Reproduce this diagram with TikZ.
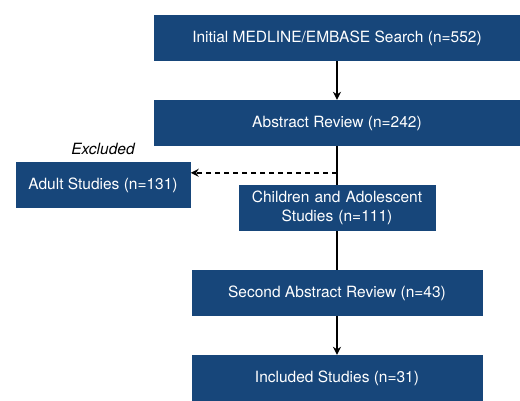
\documentclass[tikz,border=0pt]{standalone}
\usepackage{fontspec}
\setmainfont{TeX Gyre Heros}
\usepackage{tikz}
\usetikzlibrary{arrows.meta,positioning}

\definecolor{boxblue}{RGB}{23,70,122}

\begin{document}
\begin{tikzpicture}[
		x = 1pt, y = 1pt,
		node distance = 85pt,
		on grid,
		> = {Stealth[length=8pt,width=8pt]},
		every node/.style = {font=\fontsize{15.5}{18.5}\selectfont},
		box/.style = {fill=boxblue, text=white, minimum height=46pt, inner sep=0pt, align=center},
		link/.style = {line width=1.4pt}
		]
		\useasboundingbox (0,0) rectangle (520,-400);
		\node[box, minimum width=366pt] (search) at (337,-38) {Initial MEDLINE/EMBASE Search (n=552)};
		\node[box, minimum width=366pt] (review) [below=of search] {Abstract Review (n=242)};
		\node[box, text width=197pt] (child) [below=of review] {Children and Adolescent\\Studies (n=111)};
		\node[box, minimum width=291pt] (second) [below=of child] {Second Abstract Review (n=43)};
		\node[box, minimum width=291pt] (incl) [below=of second] {Included Studies (n=31)};
		\node[box, minimum width=175pt] (adult) [above left=23pt and 234pt of child] {Adult Studies (n=131)};
		\node[font=\fontsize{15.5}{18.5}\selectfont\itshape] (excl) [above=36pt of adult] {Excluded};
		\coordinate[yshift=12pt] (split) at (child.north);
		\draw[link,->] (search) -- (review);
		\draw[link] (review) -- (child);
		\draw[link] (child) -- (second);
		\draw[link,->] (second) -- (incl);
		\draw[link,->,dash pattern=on 5pt off 4pt] (split) -- (split -| adult.east);
\end{tikzpicture}
\end{document}
